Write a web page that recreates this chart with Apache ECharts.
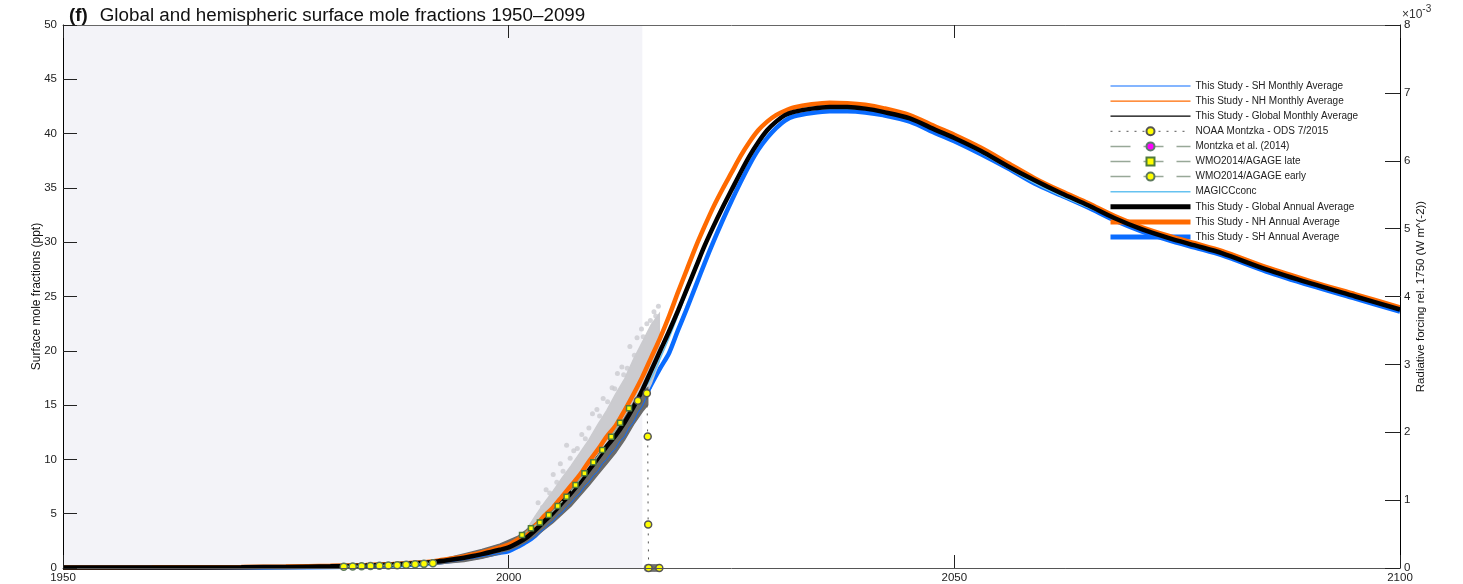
<!DOCTYPE html>
<html><head><meta charset="utf-8">
<script src="https://cdn.jsdelivr.net/npm/echarts@6/dist/echarts.min.js"></script>
<style>html,body{margin:0;padding:0;background:#fff}#c{width:1463px;height:584px}</style>
</head><body><div id="c"></div><script>
// ---------- data ----------
const xTicks = [1950, 2000, 2050, 2100];
const annualYears = [1950,1960,1970,1975,1980,1984,1987,1990,1992,1994,1995,1996,1997,1998,1999,
  2000,2001,2002,2003,2004,2005,2006,2007,2008,2009,2010,2011,2012,2013,2014,2015,2016,2017,2018,2019,
  2020,2021,2022,2023,2024,2025,2026,2027,2028,2029,2030,2031,2032,
  2034,2036,2038,2040,2042,2045,2048,2050,2053,2056,2059,2062,2065,2068,2071,2074,2077,2080,2085,2090,2095,2100];
const globalAnnual = [0.05,0.05,0.07,0.1,0.15,0.23,0.32,0.45,0.6,0.82,0.95,1.1,1.28,1.47,1.68,
  1.9,2.3,2.8,3.5,4.3,5.1,6.0,6.9,7.9,9.0,10.1,11.2,12.2,13.4,14.8,16.4,18.2,20.0,21.8,23.7,
  25.7,27.7,29.7,31.5,33.2,34.8,36.4,37.9,39.2,40.3,41.1,41.7,42.0,
  42.3,42.45,42.45,42.3,42.0,41.4,40.3,39.6,38.4,37.0,35.7,34.5,33.4,32.2,31.2,30.4,29.7,29.0,27.5,26.2,25.0,23.8];
const nhAnnual = [0.05,0.06,0.1,0.13,0.2,0.28,0.37,0.5,0.68,0.92,1.07,1.24,1.44,1.66,1.9,
  2.15,2.6,3.2,3.9,4.8,5.6,6.6,7.6,8.6,9.8,10.9,12.1,13.1,14.5,16.0,17.6,19.4,21.2,23.2,25.4,
  27.5,29.6,31.5,33.3,34.9,36.4,37.9,39.2,40.3,41.1,41.7,42.1,42.4,
  42.7,42.85,42.8,42.65,42.35,41.7,40.6,39.9,38.7,37.3,35.9,34.7,33.6,32.4,31.4,30.6,29.9,29.2,27.7,26.4,25.2,24.0];
const shAnnual = [0.03,0.03,0.04,0.06,0.1,0.16,0.24,0.35,0.5,0.7,0.8,0.93,1.08,1.24,1.4,
  1.55,1.95,2.4,3.0,3.8,4.5,5.4,6.3,7.2,8.2,9.3,10.3,11.3,12.4,13.7,15.3,16.9,18.4,19.8,21.9,
  23.9,26.0,28.1,30.1,32.0,33.8,35.5,37.1,38.5,39.6,40.5,41.2,41.6,
  41.9,42.05,42.05,41.95,41.7,41.1,40.0,39.3,38.1,36.8,35.4,34.3,33.2,32.0,31.0,30.2,29.5,28.8,27.3,26.0,24.8,23.6];

const monthlyYears = [1950,1970,1980,1985,1990,1992,1994,1996,1998,2000,2000.5,2001,2001.5,2002,2002.5,2003,2003.5,
  2004,2004.5,2005,2005.5,2006,2006.5,2007,2007.5,2008,2008.5,2009,2009.5,2010,2010.5,2011,2011.5,
  2012,2012.5,2013,2013.5,2014,2014.5,2015,2015.5,2016];
const shMonthly = [0.02,0.03,0.08,0.15,0.3,0.45,0.65,0.9,1.2,1.5,1.7,1.85,2.1,2.3,2.6,2.9,3.3,
  3.6,4.0,4.3,4.8,5.1,5.6,6.0,6.5,6.9,7.5,7.9,8.5,8.9,9.6,10.0,10.6,
  11.0,11.7,12.1,12.9,13.4,14.3,14.9,15.8,16.6];
const nhMonthly = [0.06,0.1,0.2,0.3,0.5,0.7,0.95,1.3,1.7,2.15,2.35,2.6,2.9,3.2,3.5,3.9,4.3,
  4.8,5.2,5.6,6.1,6.6,7.1,7.6,8.1,8.6,9.2,9.8,10.3,10.9,11.5,12.1,12.6,
  13.1,13.8,14.5,15.2,16.0,16.8,17.6,18.4,19.4];
const globalMonthly = [0.05,0.07,0.15,0.25,0.45,0.6,0.85,1.15,1.5,1.9,2.05,2.3,2.5,2.8,3.1,3.5,3.8,
  4.3,4.6,5.1,5.5,6.0,6.4,6.9,7.4,7.9,8.4,9.0,9.5,10.1,10.6,11.2,11.6,
  12.2,12.7,13.4,14.0,14.8,15.5,16.4,17.1,18.0];

const magiccYears = [1950,1980,1990,2000,2005,2010,2014,2015,2016,2017,2018,2019,2020,2022,2025,2030,2035,2040,2050,2060,2070,2080,2090,2100];
const magiccConc = [0.05,0.15,0.45,1.9,5.1,10.1,14.8,16.2,17.5,19.3,21.2,23.3,25.4,29.5,34.7,41.0,42.3,42.3,39.5,35.0,31.6,29.0,26.2,23.8];

const wmoEarlyYears = [1981.5,1982.5,1983.5,1984.5,1985.5,1986.5,1987.5,1988.5,1989.5,1990.5,1991.5];
const wmoEarly = [0.12,0.14,0.16,0.18,0.2,0.23,0.26,0.3,0.34,0.38,0.43];
const wmoLateYears = [2001.5,2002.5,2003.5,2004.5,2005.5,2006.5,2007.5,2008.5,2009.5,2010.5,2011.5,2012.5,2013.5];
const wmoLate = [3.04,3.65,4.2,4.88,5.7,6.57,7.64,8.72,9.73,10.87,12.09,13.38,14.7];
const montzkaYears = [];
const montzka = [];
const noaaYears = [2014.5,2015.5,2015.6,2015.65,2015.7,2016.9];
const noaa = [15.4,16.1,12.1,4.0,0.0,0.0];

// light grey station cloud (lower / upper envelope) and scattered points
const lightBandYears = [2001.5,2002,2003,2004,2005,2006,2007,2008,2009,2010,2011,2012,2013,2014,2015,2016,2016.9];
const lightBandLow  = [2.5,2.8,3.3,4.0,4.8,5.6,6.5,7.5,8.5,9.5,10.5,11.5,12.6,14.0,15.3,17.0,19.0];
const lightBandHigh = [2.9,3.5,4.8,6.0,7.1,8.3,9.4,10.6,11.8,13.2,14.5,16.0,17.4,19.2,20.8,22.4,23.4];
const lightOutYears = [2004.2,2005.0,2006.5,2008.2,2009.4,2010.6,2011.6,2012.7,2013.6,2014.4,2015.5,2016.3,2016.8,2003.3,2007.3,2005.8,2009.9,2012.2,2014.9,
  2003.8,2004.6,2005.4,2006.1,2006.9,2007.7,2008.6,2009.0,2010.2,2011.1,2011.9,2012.9,2013.3,2014.1,2015.1,2015.9,2016.5];
const lightOut = [7.2,8.6,11.3,12.3,14.2,15.6,16.6,18.5,20.4,21.2,22.5,23.6,24.1,6.0,10.8,9.6,14.6,17.9,22.0,
  5.6,6.9,7.9,8.9,10.1,11.0,11.9,12.9,14.0,15.3,16.5,17.8,18.4,19.6,21.3,22.8,23.2];
// dark grey station band
const darkBandYears = [1991.5,1993,1995,1997,1999,2001,2003,2005,2007,2009,2010,2011,2012,2013,2014,2015,2015.6];
const darkBandLow  = [0.3,0.45,0.6,0.9,1.3,1.9,2.9,4.2,5.7,7.6,8.6,9.6,10.6,11.8,13.2,14.4,15.0];
const darkBandHigh = [0.6,0.9,1.3,1.7,2.2,2.9,4.1,5.5,7.1,9.1,10.3,11.4,12.5,13.8,15.2,16.3,16.6];
const darkZeroYears = [2015.6,2015.9,2016.2,2016.5,2016.8];
const darkZero = [0,0,0,0,0];

const shadeRange = [1950, 2015];

// ---------- build ----------
const pairs = (xs, ys) => xs.map((x, i) => [x, ys[i]]);
const FONT = 'Liberation Sans';
const lightGrey = '#CBCBCF', darkGrey = '#6B6B6B', mkLine = '#98A898';
const ORANGE = '#FF6A00', BLUE = '#0A6CFF';

function band(name, xs, lo, hi, color, z) {
  return {
    name, type: 'custom', silent: true, clip: true, z,
    data: xs.map((x, i) => [x, lo[i], hi[i]]),
    encode: {x: 0, y: [1, 2]},
    renderItem: (params, api) => {
      if (params.dataIndex !== 0) return null;
      const pts = [];
      for (let i = 0; i < xs.length; i++) pts.push(api.coord([xs[i], lo[i]]));
      for (let i = xs.length - 1; i >= 0; i--) pts.push(api.coord([xs[i], hi[i]]));
      return {type: 'polygon', shape: {points: pts}, style: {fill: color, stroke: color, lineWidth: 1.5}};
    }
  };
}

const lineOnly = (name, w) => ({name, lineStyle: {width: w}, itemStyle: {opacity: 0}});
const withMark = (name, w) => ({name, lineStyle: {width: w}});

const chart = echarts.init(document.getElementById('c'), null, {renderer: 'canvas'});
chart.setOption({
  animation: false,
  backgroundColor: '#fff',
  textStyle: {fontFamily: FONT},
  title: {
    text: '{b|(f)}Global and hemispheric surface mole fractions 1950–2099',
    left: 64, top: 1,
    textStyle: {fontFamily: FONT, fontSize: 18.8, fontWeight: 'normal', color: '#111',
      rich: {b: {fontFamily: FONT, fontSize: 18.8, fontWeight: 'bold', color: '#111', padding: [0, 12, 0, 0]}}}
  },
  graphic: [{
    type: 'text', left: 1402, top: 4,
    style: {text: '{a|×10}{s|-3}', rich: {a: {fontSize: 12, fontFamily: FONT, fill: '#333', padding: [5, 0, 0, 0]}, s: {fontSize: 10, fontFamily: FONT, fill: '#333', verticalAlign: 'top'}}}
  }],
  legend: {
    orient: 'vertical', left: 1103, top: 76,
    itemWidth: 80, itemHeight: 10, itemGap: 5.1,
    textStyle: {fontSize: 10, color: '#222', fontFamily: FONT, lineHeight: 10},
    data: [lineOnly('This Study - SH Monthly Average', 1.2), lineOnly('This Study - NH Monthly Average', 1.2),
      lineOnly('This Study - Global Monthly Average', 1.2),
      withMark('NOAA Montzka - ODS 7/2015', 1), withMark('Montzka et al. (2014)', 1.5),
      withMark('WMO2014/AGAGE late', 1.5), withMark('WMO2014/AGAGE early', 1.5), lineOnly('MAGICCconc', 1.5),
      lineOnly('This Study - Global Annual Average', 5), lineOnly('This Study - NH Annual Average', 5),
      lineOnly('This Study - SH Annual Average', 5)]
  },
  grid: {left: 63, right: 63, top: 25, bottom: 16, containLabel: false},
  xAxis: [{
    type: 'value', min: xTicks[0], max: xTicks[xTicks.length - 1], interval: 50, position: 'bottom', z: 10,
    axisLine: {show: true, onZero: false, lineStyle: {color: '#555', width: 1}},
    axisTick: {show: true, inside: true, length: 13, lineStyle: {color: '#222'}},
    axisLabel: {fontSize: 11.5, color: '#222', margin: 4, fontFamily: FONT, formatter: v => String(v)},
    splitLine: {show: false}
  }, {
    type: 'value', min: xTicks[0], max: xTicks[xTicks.length - 1], interval: 50, position: 'top', z: 10,
    axisLine: {show: true, onZero: false, lineStyle: {color: '#666', width: 1}},
    axisTick: {show: true, inside: true, length: 13, lineStyle: {color: '#222'}},
    axisLabel: {show: false}, splitLine: {show: false}
  }],
  yAxis: [{
    type: 'value', min: 0, max: 50, interval: 5, position: 'left', z: 10,
    name: 'Surface mole fractions (ppt)', nameLocation: 'middle', nameGap: 20, nameRotate: 90, nameMoveOverlap: false,
    nameTextStyle: {fontSize: 12, color: '#111', fontFamily: FONT},
    axisLine: {show: true, onZero: false, lineStyle: {color: '#000', width: 1}},
    axisTick: {show: true, inside: true, length: 14, lineStyle: {color: '#222'}},
    axisLabel: {fontSize: 11.5, color: '#222', margin: 6, fontFamily: FONT},
    splitLine: {show: false}
  }, {
    type: 'value', min: 0, max: 8, interval: 1, position: 'right', z: 10,
    name: 'Radiative forcing rel. 1750 (W m^(-2))', nameLocation: 'middle', nameGap: 15, nameRotate: 90, nameMoveOverlap: false,
    nameTextStyle: {fontSize: 11.5, color: '#111', fontFamily: FONT},
    axisLine: {show: true, onZero: false, lineStyle: {color: '#000', width: 1}},
    axisTick: {show: true, inside: true, length: 15, lineStyle: {color: '#222'}},
    axisLabel: {fontSize: 11.5, color: '#222', margin: 4, fontFamily: FONT},
    splitLine: {show: false}
  }],
  series: [
    {name: 'This Study - SH Annual Average', type: 'line', z: 2, data: pairs(annualYears, shAnnual), smooth: 0.3,
      symbol: 'none', lineStyle: {color: BLUE, width: 4.5}, itemStyle: {color: BLUE},
      markArea: {silent: true, itemStyle: {color: '#F3F3F8'}, data: [[{xAxis: shadeRange[0]}, {xAxis: shadeRange[1]}]]}},
    band('lightBand', lightBandYears, lightBandLow, lightBandHigh, lightGrey, 3),
    {name: 'lightOut', type: 'scatter', z: 3, data: pairs(lightOutYears, lightOut), symbolSize: 5, itemStyle: {color: lightGrey}},
    band('darkBand', darkBandYears, darkBandLow, darkBandHigh, darkGrey, 4),
    {name: 'darkZero', type: 'scatter', z: 4, data: pairs(darkZeroYears, darkZero), symbolSize: 8, itemStyle: {color: darkGrey}},
    {name: 'MAGICCconc', type: 'line', z: 5, data: pairs(magiccYears, magiccConc), smooth: 0.3, symbol: 'none',
      lineStyle: {color: '#66C2F0', width: 1.5}, itemStyle: {color: '#66C2F0'}},
    {name: 'This Study - SH Monthly Average', type: 'line', z: 5, data: pairs(monthlyYears, shMonthly), symbol: 'none',
      lineStyle: {color: BLUE, width: 1}, itemStyle: {color: BLUE}},
    {name: 'This Study - NH Monthly Average', type: 'line', z: 5, data: pairs(monthlyYears, nhMonthly), symbol: 'none',
      lineStyle: {color: ORANGE, width: 1}, itemStyle: {color: ORANGE}},
    {name: 'This Study - Global Monthly Average', type: 'line', z: 5, data: pairs(monthlyYears, globalMonthly), symbol: 'none',
      lineStyle: {color: '#000', width: 1}, itemStyle: {color: '#000'}},
    {name: 'This Study - NH Annual Average', type: 'line', z: 6, data: pairs(annualYears, nhAnnual), smooth: 0.3,
      symbol: 'none', lineStyle: {color: ORANGE, width: 4.5}, itemStyle: {color: ORANGE}},
    {name: 'This Study - Global Annual Average', type: 'line', z: 6, data: pairs(annualYears, globalAnnual), smooth: 0.3,
      symbol: 'none', lineStyle: {color: '#000', width: 4.5}, itemStyle: {color: '#000'}},
    {name: 'WMO2014/AGAGE early', type: 'line', z: 7, data: pairs(wmoEarlyYears, wmoEarly), symbol: 'circle', symbolSize: 7, showSymbol: true,
      lineStyle: {color: mkLine, width: 1.5, type: [20, 13]}, itemStyle: {color: '#FFFF00', borderColor: '#5E7A5E', borderWidth: 1.5}},
    {name: 'WMO2014/AGAGE late', type: 'line', z: 7, data: pairs(wmoLateYears, wmoLate), symbol: 'rect', symbolSize: 5, showSymbol: true,
      lineStyle: {color: mkLine, width: 1.5, type: [20, 13]}, itemStyle: {color: '#FFFF00', borderColor: '#4F7A3F', borderWidth: 1.5}},
    {name: 'Montzka et al. (2014)', type: 'line', z: 7, data: pairs(montzkaYears, montzka), symbol: 'circle', symbolSize: 8,
      lineStyle: {color: mkLine, width: 1.5, type: [20, 13]}, itemStyle: {color: '#FF00FF', borderColor: '#5E7A6E', borderWidth: 1.5}},
    {name: 'NOAA Montzka - ODS 7/2015', type: 'line', z: 7, data: pairs(noaaYears, noaa), symbol: 'circle', symbolSize: 7, showSymbol: true,
      lineStyle: {color: '#555', width: 1, type: [2, 6]}, itemStyle: {color: '#FFFF00', borderColor: '#555', borderWidth: 1.5}}
  ]
});
</script></body></html>
